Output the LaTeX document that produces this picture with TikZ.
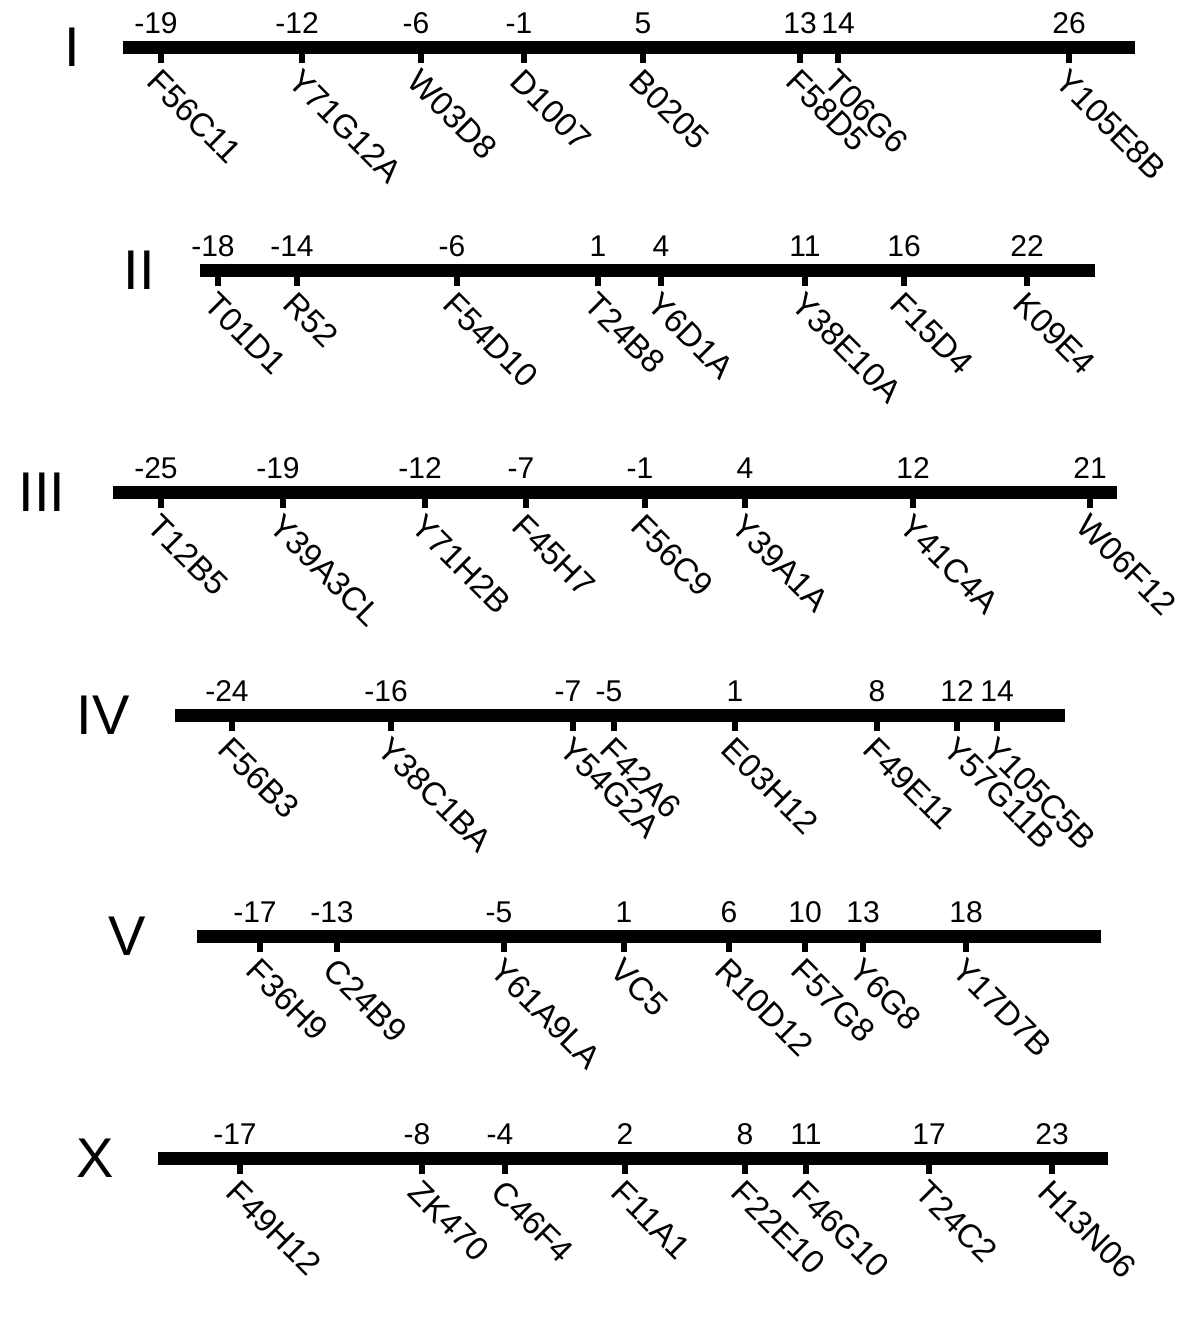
\documentclass[tikz,border=0pt]{standalone}
\usepackage{fontspec}
\setmainfont{Liberation Sans}
\usetikzlibrary{positioning}

\newcommand{\mn}[1]{\llap{-}#1}
% name, label x, bar y, bar start, bar end, ticks (x/position/gene)
\newcommand{\chrline}[6]{%
  \node[chrname] (#1) at (#2,#3) {#1};
  \coordinate (#1-l) at (#4,#3);
  \coordinate (#1-r) at (#5,#3);
  \draw[chrom] (#1-l) -- (#1-r);
  \foreach \x/\n/\g [count=\i] in {#6}{
    \coordinate (#1-\i) at (\x,#3);
    \coordinate (#1-\i-end) at (\x,#3+16);
    \draw[locus] (#1-\i) -- (#1-\i-end);
    \node[mappos] (#1-\i-pos) at (\x,#3-14) {\n};
    \node[gene] (#1-\i-gene) at (\x+1,#3+20) {\g};
  }%
}

\begin{document}
\begin{tikzpicture}[
    x=0.5pt, y=-0.5pt,
    chrom/.style={line width=6.5pt},
    locus/.style={line width=3pt},
    mappos/.style={font=\fontsize{15}{17}\selectfont, anchor=base, inner sep=0pt},
    gene/.style={font=\fontsize{16.5}{18}\selectfont, rotate=-45, anchor=north west, inner sep=0pt},
    chrname/.style={font=\fontsize{28}{32}\selectfont, inner sep=0pt}
]
\useasboundingbox (0,0) rectangle (1200,1317);

\chrline{I}{72}{47}{123}{1135}{161/\mn{19}/F56C11, 302/\mn{12}/Y71G12A, 421/\mn{6}/W03D8,
  524/\mn{1}/D1007, 643/5/B0205, 800/13/F58D5, 838/14/T06G6, 1069/26/Y105E8B}

\chrline{II}{139}{270}{200}{1095}{218/\mn{18}/T01D1, 297/\mn{14}/R52, 457/\mn{6}/F54D10,
  598/1/T24B8, 661/4/Y6D1A, 805/11/Y38E10A, 904/16/F15D4, 1027/22/K09E4}

\chrline{III}{42}{492}{113}{1117}{161/\mn{25}/T12B5, 283/\mn{19}/Y39A3CL, 425/\mn{12}/Y71H2B,
  526/\mn{7}/F45H7, 645/\mn{1}/F56C9, 745/4/Y39A1A, 913/12/Y41C4A, 1090/21/W06F12}

\chrline{IV}{103}{715}{175}{1065}{232/\mn{24}/F56B3, 391/\mn{16}/Y38C1BA, 573/\mn{7}/Y54G2A,
  614/\mn{5}/F42A6, 735/1/E03H12, 877/8/F49E11, 957/12/Y57G11B, 997/14/Y105C5B}

\chrline{V}{127}{936}{197}{1101}{260/\mn{17}/F36H9, 337/\mn{13}/C24B9, 504/\mn{5}/Y61A9LA,
  624/1/VC5, 729/6/R10D12, 805/10/F57G8, 863/13/Y6G8, 966/18/Y17D7B}

\chrline{X}{95}{1158}{158}{1108}{240/\mn{17}/F49H12, 422/\mn{8}/ZK470, 505/\mn{4}/C46F4,
  625/2/F11A1, 745/8/F22E10, 806/11/F46G10, 929/17/T24C2, 1052/23/H13N06}
\end{tikzpicture}
\end{document}
